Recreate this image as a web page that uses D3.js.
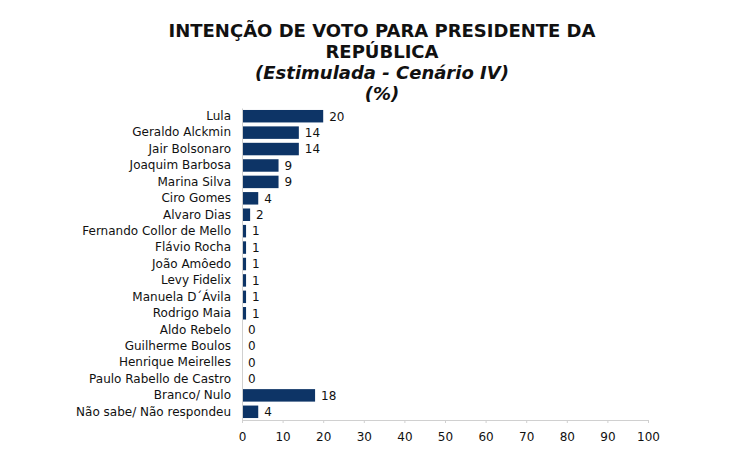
<!DOCTYPE html>
<html>
<head>
<meta charset="utf-8">
<script src="https://cdn.jsdelivr.net/npm/d3@7"></script>
<style>
  body { margin: 0; background: #fff; }
  svg { display: block; font-family: "DejaVu Sans", Verdana, sans-serif; }
</style>
</head>
<body>
<div id="chart"></div>
<script>
var width = 740;
var height = 450;

var titleLines = ["INTENÇÃO DE VOTO PARA PRESIDENTE DA", "REPÚBLICA"];
var subtitleLines = ["(Estimulada - Cenário IV)", "(%)"];

var candidates = [
    "Lula", "Geraldo Alckmin", "Jair Bolsonaro", "Joaquim Barbosa", "Marina Silva",
    "Ciro Gomes", "Alvaro Dias", "Fernando Collor de Mello", "Flávio Rocha", "João Amôedo",
    "Levy Fidelix", "Manuela D´Ávila", "Rodrigo Maia", "Aldo Rebelo", "Guilherme Boulos",
    "Henrique Meirelles", "Paulo Rabello de Castro", "Branco/ Nulo", "Não sabe/ Não respondeu"
];
var votes = [20, 14, 14, 9, 9, 4, 2, 1, 1, 1, 1, 1, 1, 0, 0, 0, 0, 18, 4];
var xTicks = [0, 10, 20, 30, 40, 50, 60, 70, 80, 90, 100];

var data = candidates.map((c, i) => ({name: c, value: votes[i]}));

var margin = {left: 242, right: 92, top: 108, bottom: 30};

const svg = d3.select("#chart")
    .append("svg")
    .attr("width", width)
    .attr("height", height);

// title
svg.append("g")
    .selectAll("text")
    .data(titleLines)
    .join("text")
    .attr("x", 382)
    .attr("y", (d, i) => 37 + i * 21)
    .attr("text-anchor", "middle")
    .attr("font-size", 18)
    .attr("font-weight", "bold")
    .attr("fill", "#111")
    .text(d => d);

svg.append("g")
    .selectAll("text")
    .data(subtitleLines)
    .join("text")
    .attr("x", 382)
    .attr("y", (d, i) => 79 + i * 21)
    .attr("text-anchor", "middle")
    .attr("font-size", 18)
    .attr("font-weight", "bold")
    .attr("font-style", "italic")
    .attr("fill", "#111")
    .text(d => d);

const x = d3.scaleLinear()
    .domain([0, 100])
    .range([margin.left, width - margin.right]);

const y = d3.scaleBand()
    .domain(candidates)
    .range([margin.top, height - margin.bottom])
    .paddingInner(0.24)
    .paddingOuter(0.12);

// bars
svg.append("g")
    .selectAll("rect")
    .data(data)
    .join("rect")
    .attr("x", x(0))
    .attr("y", d => y(d.name))
    .attr("width", d => x(d.value) - x(0))
    .attr("height", y.bandwidth())
    .attr("fill", "#0d3466");

// value labels
svg.append("g")
    .selectAll("text")
    .data(data)
    .join("text")
    .attr("x", d => x(d.value) + 6)
    .attr("y", d => y(d.name) + y.bandwidth() / 2)
    .attr("dy", "0.36em")
    .attr("font-size", 12)
    .attr("fill", "#111")
    .text(d => d.value);

// category axis
const yAxis = svg.append("g")
    .attr("transform", `translate(${x(0)},0)`)
    .call(d3.axisLeft(y).tickSize(0).tickPadding(11));
yAxis.select(".domain").attr("stroke", "#d0d0d0");
yAxis.selectAll("text")
    .attr("font-size", 12)
    .attr("font-family", "DejaVu Sans, Verdana, sans-serif")
    .attr("fill", "#111");

// value axis
const xAxis = svg.append("g")
    .attr("transform", `translate(0,${height - margin.bottom})`)
    .call(d3.axisBottom(x).tickValues(xTicks).tickSize(3).tickSizeOuter(0).tickPadding(9));
xAxis.select(".domain").attr("stroke", "#d0d0d0");
xAxis.selectAll(".tick line").attr("stroke", "#d0d0d0");
xAxis.selectAll("text")
    .attr("font-size", 12)
    .attr("font-family", "DejaVu Sans, Verdana, sans-serif")
    .attr("fill", "#111");
</script>
</body>
</html>
